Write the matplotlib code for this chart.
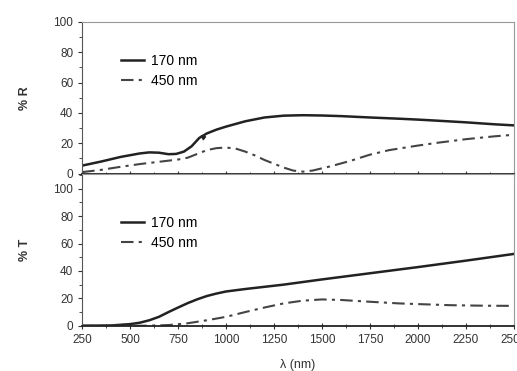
import numpy as np
import matplotlib
matplotlib.use("Agg")
import matplotlib.pyplot as plt
from matplotlib.ticker import MultipleLocator

plt.rcParams['font.family'] = ['Liberation Sans', 'DejaVu Sans']

# reflectance (top panel)
wl_r = [250, 350, 450, 550, 600, 650, 700, 740, 780, 820, 860, 900, 950, 1000, 1100, 1200,
        1300, 1400, 1500, 1600, 1750, 1900, 2000, 2100, 2250, 2400, 2500]
r_170 = [5.3, 8.0, 11.0, 13.3, 14.0, 13.8, 12.8, 13.0, 14.5, 18.0, 23.5, 26.5, 29.0, 31.0, 34.5, 37.0,
         38.2, 38.5, 38.3, 37.9, 37.0, 36.2, 35.6, 34.9, 33.8, 32.5, 31.8]
wl_r2 = [250, 350, 450, 550, 650, 750, 800, 850, 900, 950, 1000, 1050, 1100, 1150, 1200, 1250,
         1300, 1350, 1400, 1450, 1550, 1650, 1750, 1850, 2000, 2100, 2250, 2400, 2500]
r_450 = [1.0, 2.5, 4.5, 6.3, 7.8, 9.3, 10.5, 13.0, 15.5, 16.8, 17.2, 16.5, 14.5, 12.0, 9.0, 6.5,
         4.0, 2.0, 1.3, 2.0, 5.0, 8.5, 12.5, 15.5, 18.5, 20.3, 22.7, 24.6, 25.6]

# transmittance (bottom panel)
wl_t = [250, 400, 500, 550, 600, 650, 700, 750, 800, 850, 900, 950, 1000, 1100, 1200, 1300,
        1500, 1750, 2000, 2250, 2500]
t_170 = [0.0, 0.2, 1.2, 2.2, 4.0, 6.5, 10.0, 13.3, 16.5, 19.3, 21.7, 23.5, 25.0, 26.8, 28.4, 30.0,
         33.8, 38.3, 42.8, 47.5, 52.4]
wl_t2 = [250, 600, 700, 800, 900, 1000, 1100, 1200, 1300, 1400, 1500, 1600, 1750, 1900, 2000,
         2167, 2350, 2500]
t_450 = [0.0, 0.0, 0.5, 1.8, 4.0, 6.5, 10.0, 13.3, 16.3, 18.3, 19.2, 18.8, 17.5, 16.3, 15.8,
         15.0, 14.6, 14.5]

labels = ["170 nm", "450 nm"]
xticks = [250, 500, 750, 1000, 1250, 1500, 1750, 2000, 2250, 2500]

fig = plt.figure(figsize=(5.17, 3.71), dpi=100)
ax1 = fig.add_axes([0.159, 0.532, 0.835, 0.409])
ax2 = fig.add_axes([0.159, 0.122, 0.835, 0.410])

dashdot = (0, (6, 2.5, 1.5, 2.5))
lc = '#222222'
tc = '#333333'

for ax in (ax1, ax2):
    ax.set_xlim(250, 2500)
    ax.set_xticks(xticks)
    ax.xaxis.set_minor_locator(MultipleLocator(125))
    ax.yaxis.set_minor_locator(MultipleLocator(10))
    ax.tick_params(axis='x', which='major', direction='inout', length=5, width=0.8, labelsize=8.5, colors=tc)
    ax.tick_params(axis='x', which='minor', direction='inout', length=3, width=0.6, colors=tc)
    ax.tick_params(axis='y', which='major', direction='out', length=3, width=0.8, labelsize=8.5, colors=tc)
    ax.tick_params(axis='y', which='minor', direction='out', length=2, width=0.6, colors=tc)
    for s in ['top', 'right']:
        ax.spines[s].set_color('#999999')
    ax.spines['left'].set_color('#555555')
    ax.spines['bottom'].set_color('#222222')
    ax.spines['bottom'].set_linewidth(1.3)
    ax.set_yticks([0, 20, 40, 60, 80, 100])

ax1.plot(wl_r, r_170, color=lc, lw=1.8, label=labels[0])
ax1.plot(wl_r2, r_450, color='#444444', lw=1.5, linestyle=dashdot, label=labels[1])
ax1.annotate('', xy=(855, 26.5), xytext=(885, 23.5),
             arrowprops=dict(arrowstyle='-|>', color=lc, lw=0.8, mutation_scale=7))
ax1.set_ylim(0, 100)
ax1.tick_params(axis='x', labelbottom=False)
ax1.set_ylabel('% R', fontsize=9, color=tc, labelpad=16, fontweight='bold')
ax1.legend(loc='upper left', bbox_to_anchor=(0.06, 0.873), frameon=False, fontsize=10,
           handlelength=1.7, handletextpad=0.5, labelspacing=0.45)

ax2.plot(wl_t, t_170, color=lc, lw=1.8, label=labels[0])
ax2.plot(wl_t2, t_450, color='#444444', lw=1.5, linestyle=dashdot, label=labels[1])
ax2.set_ylim(0, 111)
ax2.set_ylabel('% T', fontsize=9, color=tc, labelpad=16, fontweight='bold')
ax2.set_xlabel('λ (nm)', fontsize=9, color=tc, labelpad=9)
ax2.legend(loc='upper left', bbox_to_anchor=(0.06, 0.803), frameon=False, fontsize=10,
           handlelength=1.7, handletextpad=0.5, labelspacing=0.45)

fig.savefig('out.png', dpi=100)
